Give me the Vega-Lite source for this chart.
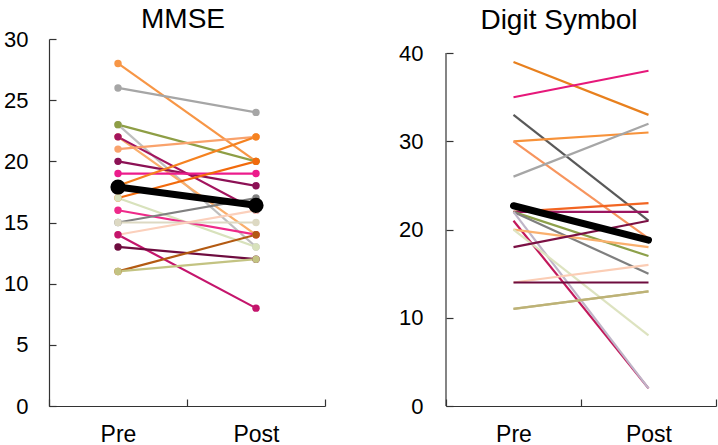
{
  "$schema": "https://vega.github.io/schema/vega-lite/v6.json",
  "padding": {"left": 3, "top": 6, "right": 3, "bottom": 0},
  "background": "white",
  "config": {
    "font": "Liberation Sans",
    "view": {"stroke": null},
    "axis": {"grid": false, "domainColor": "#333333", "tickColor": "#333333", "labelColor": "black", "title": null, "domainWidth": 1.2, "tickWidth": 1.2},
    "title": {"fontSize": 28, "fontWeight": "normal", "color": "black", "font": "Liberation Sans"}
  },
  "datasets": {
    "mmse": [
      {"subject": "m01", "time": "Pre", "score": 28}, {"subject": "m01", "time": "Post", "score": 20},
      {"subject": "m02", "time": "Pre", "score": 26}, {"subject": "m02", "time": "Post", "score": 24},
      {"subject": "m03", "time": "Pre", "score": 23}, {"subject": "m03", "time": "Post", "score": 13},
      {"subject": "m04", "time": "Pre", "score": 23}, {"subject": "m04", "time": "Post", "score": 20},
      {"subject": "m05", "time": "Pre", "score": 22}, {"subject": "m05", "time": "Post", "score": 14},
      {"subject": "m06", "time": "Pre", "score": 22}, {"subject": "m06", "time": "Post", "score": 16},
      {"subject": "m07", "time": "Pre", "score": 21}, {"subject": "m07", "time": "Post", "score": 22},
      {"subject": "m08", "time": "Pre", "score": 20}, {"subject": "m08", "time": "Post", "score": 18},
      {"subject": "m09", "time": "Pre", "score": 19}, {"subject": "m09", "time": "Post", "score": 19},
      {"subject": "m10", "time": "Pre", "score": 18}, {"subject": "m10", "time": "Post", "score": 22},
      {"subject": "m11", "time": "Pre", "score": 17}, {"subject": "m11", "time": "Post", "score": 20},
      {"subject": "m12", "time": "Pre", "score": 17}, {"subject": "m12", "time": "Post", "score": 13},
      {"subject": "m13", "time": "Pre", "score": 16}, {"subject": "m13", "time": "Post", "score": 14},
      {"subject": "m14", "time": "Pre", "score": 15}, {"subject": "m14", "time": "Post", "score": 17},
      {"subject": "m15", "time": "Pre", "score": 15}, {"subject": "m15", "time": "Post", "score": 15},
      {"subject": "m16", "time": "Pre", "score": 14}, {"subject": "m16", "time": "Post", "score": 16},
      {"subject": "m17", "time": "Pre", "score": 14}, {"subject": "m17", "time": "Post", "score": 8},
      {"subject": "m18", "time": "Pre", "score": 13}, {"subject": "m18", "time": "Post", "score": 12},
      {"subject": "m19", "time": "Pre", "score": 11}, {"subject": "m19", "time": "Post", "score": 14},
      {"subject": "m20", "time": "Pre", "score": 11}, {"subject": "m20", "time": "Post", "score": 12}
    ],
    "mmseMean": [
      {"time": "Pre", "score": 17.9}, {"time": "Post", "score": 16.4}
    ],
    "ds": [
      {"subject": "d01", "time": "Pre", "score": 39}, {"subject": "d01", "time": "Post", "score": 33},
      {"subject": "d02", "time": "Pre", "score": 35}, {"subject": "d02", "time": "Post", "score": 38},
      {"subject": "d03", "time": "Pre", "score": 33}, {"subject": "d03", "time": "Post", "score": 21},
      {"subject": "d04", "time": "Pre", "score": 30}, {"subject": "d04", "time": "Post", "score": 31},
      {"subject": "d05", "time": "Pre", "score": 30}, {"subject": "d05", "time": "Post", "score": 19},
      {"subject": "d06", "time": "Pre", "score": 26}, {"subject": "d06", "time": "Post", "score": 32},
      {"subject": "d07", "time": "Pre", "score": 22}, {"subject": "d07", "time": "Post", "score": 23},
      {"subject": "d08", "time": "Pre", "score": 22}, {"subject": "d08", "time": "Post", "score": 22},
      {"subject": "d09", "time": "Pre", "score": 22}, {"subject": "d09", "time": "Post", "score": 17},
      {"subject": "d10", "time": "Pre", "score": 22}, {"subject": "d10", "time": "Post", "score": 15},
      {"subject": "d11", "time": "Pre", "score": 21}, {"subject": "d11", "time": "Post", "score": 2},
      {"subject": "d12", "time": "Pre", "score": 22}, {"subject": "d12", "time": "Post", "score": 2},
      {"subject": "d13", "time": "Pre", "score": 20}, {"subject": "d13", "time": "Post", "score": 18},
      {"subject": "d14", "time": "Pre", "score": 20}, {"subject": "d14", "time": "Post", "score": 8},
      {"subject": "d15", "time": "Pre", "score": 18}, {"subject": "d15", "time": "Post", "score": 21},
      {"subject": "d16", "time": "Pre", "score": 14}, {"subject": "d16", "time": "Post", "score": 16},
      {"subject": "d17", "time": "Pre", "score": 14}, {"subject": "d17", "time": "Post", "score": 14},
      {"subject": "d18", "time": "Pre", "score": 11}, {"subject": "d18", "time": "Post", "score": 13},
      {"subject": "d19", "time": "Pre", "score": 11}, {"subject": "d19", "time": "Post", "score": 13}
    ],
    "dsMean": [
      {"time": "Pre", "score": 22.7}, {"time": "Post", "score": 18.8}
    ]
  },
  "spacing": 72,
  "resolve": {"scale": {"color": "independent", "y": "independent"}},
  "hconcat": [
    {
      "width": 276,
      "height": 367,
      "title": {"text": "MMSE", "offset": -6, "dx": -4},
      "layer": [
        {
          "data": {"name": "mmse"},
          "mark": {"type": "line", "strokeWidth": 2.2},
          "encoding": {
            "x": {"field": "time", "type": "nominal", "sort": ["Pre", "Post"], "scale": {"type": "band", "paddingInner": 0, "paddingOuter": 0},
                  "axis": {"labelAngle": 0, "tickBand": "extent", "tickSize": -7, "labelPadding": 24, "labelFontSize": 23}},
            "y": {"field": "score", "type": "quantitative", "scale": {"domain": [0, 30], "nice": false},
                  "axis": {"values": [0, 5, 10, 15, 20, 25, 30], "tickSize": -7, "labelPadding": 28, "labelFontSize": 22}},
            "color": {"field": "subject", "type": "nominal", "legend": null,
              "scale": {"domain": ["m01","m02","m03","m04","m05","m06","m07","m08","m09","m10","m11","m12","m13","m14","m15","m16","m17","m18","m19","m20"],
                        "range": ["#F79646","#A6A6A6","#BFBFBF","#8E9E45","#FAAE6B","#A3145E","#F9A26C","#8C1155","#EC1C8C","#F58220","#F26A0C","#D8E2BC","#EE2A8A","#808080","#DDD9C3","#FBD0BC","#C4156C","#6E0C3F","#B35A12","#C3C382"]}}
          }
        },
        {
          "data": {"name": "mmse"},
          "mark": {"type": "point", "filled": true, "size": 55, "opacity": 1},
          "encoding": {
            "x": {"field": "time", "type": "nominal", "sort": ["Pre", "Post"]},
            "y": {"field": "score", "type": "quantitative"},
            "color": {"field": "subject", "type": "nominal", "legend": null}
          }
        },
        {
          "data": {"name": "mmseMean"},
          "mark": {"type": "line", "strokeWidth": 7, "color": "black"},
          "encoding": {
            "x": {"field": "time", "type": "nominal", "sort": ["Pre", "Post"]},
            "y": {"field": "score", "type": "quantitative"}
          }
        },
        {
          "data": {"name": "mmseMean"},
          "mark": {"type": "point", "filled": true, "size": 230, "color": "black", "opacity": 1},
          "encoding": {
            "x": {"field": "time", "type": "nominal", "sort": ["Pre", "Post"]},
            "y": {"field": "score", "type": "quantitative"}
          }
        }
      ]
    },
    {
      "width": 270,
      "height": 367,
      "title": {"text": "Digit Symbol", "offset": 4, "dx": -22},
      "layer": [
        {
          "data": {"name": "ds"},
          "mark": {"type": "line", "strokeWidth": 2.2},
          "encoding": {
            "x": {"field": "time", "type": "nominal", "sort": ["Pre", "Post"], "scale": {"type": "band", "paddingInner": 0, "paddingOuter": 0},
                  "axis": {"labelAngle": 0, "tickBand": "extent", "tickSize": -7, "labelPadding": 24, "labelFontSize": 23}},
            "y": {"field": "score", "type": "quantitative", "scale": {"domain": [0, 41.6], "nice": false},
                  "axis": {"values": [0, 10, 20, 30, 40], "domain": false, "tickSize": -7, "labelPadding": 30, "labelFontSize": 22}},
            "color": {"field": "subject", "type": "nominal", "legend": null,
              "scale": {"domain": ["d01","d02","d03","d04","d05","d06","d07","d08","d09","d10","d11","d12","d13","d14","d15","d16","d17","d18","d19"],
                        "range": ["#E8801E","#E6187A","#595959","#F7923A","#F7955E","#A6A6A6","#F26522","#9B1560","#8DA04A","#7F7F7F","#C2185B","#BFB5C8","#FAB06E","#DDE3C0","#7B1044","#FBCDB5","#6E0C3F","#C4BD8A","#BDB276"]}}
          }
        },
        {
          "data": {"name": "dsMean"},
          "transform": [{"filter": "datum.time === 'Pre'"}],
          "mark": {"type": "rule", "color": "#333333", "strokeWidth": 1.2},
          "encoding": {
            "x": {"datum": "Pre", "type": "nominal", "bandPosition": 0},
            "y": {"datum": 0, "type": "quantitative"},
            "y2": {"datum": 40}
          }
        },
        {
          "data": {"name": "dsMean"},
          "mark": {"type": "line", "strokeWidth": 7, "color": "black", "strokeCap": "round"},
          "encoding": {
            "x": {"field": "time", "type": "nominal", "sort": ["Pre", "Post"]},
            "y": {"field": "score", "type": "quantitative"}
          }
        }
      ]
    }
  ]
}
